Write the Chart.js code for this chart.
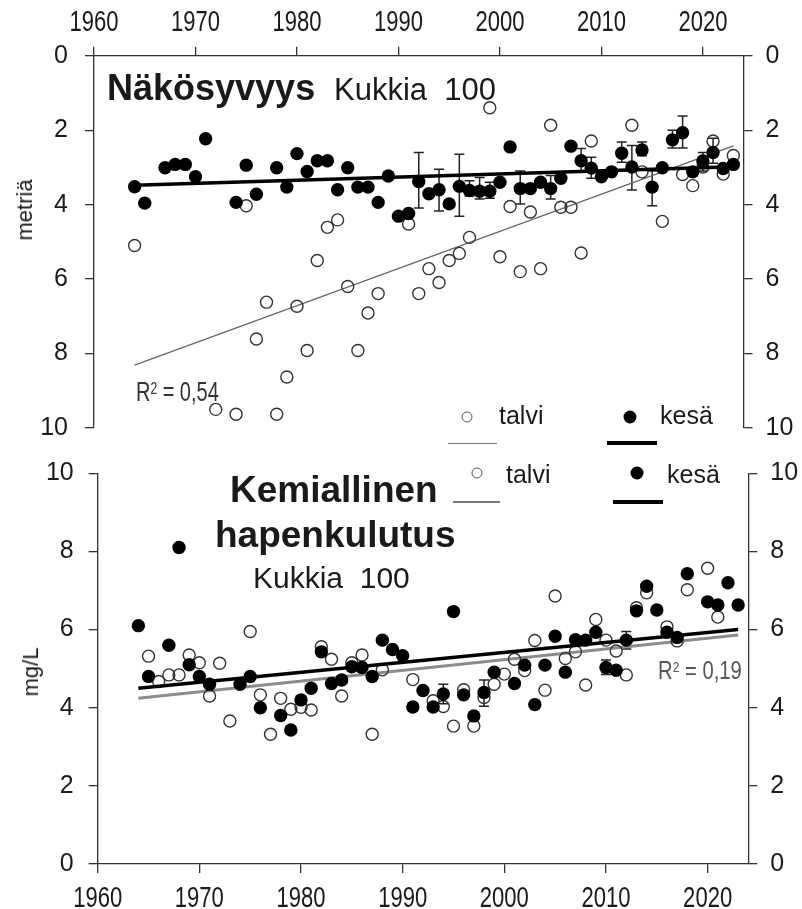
<!DOCTYPE html>
<html>
<head>
<meta charset="utf-8">
<script src="https://cdn.jsdelivr.net/npm/chart.js@4.4.1/dist/chart.umd.min.js"></script>
<style>
    body { margin: 0; background: #fff; }
    #wrap { position: relative; width: 802px; height: 909px; overflow: hidden; font-family: 'Liberation Sans', Arial, sans-serif; color: #1a1a1a; }
    canvas { position: absolute; left: 0; }
    .txt { position: absolute; white-space: pre; line-height: 1; }
    .bold { font-weight: bold; }
    .rot { position: absolute; white-space: pre; line-height: 1; font-size: 22px; transform: translate(-50%, -50%) rotate(-90deg); }
    .narrow { transform-origin: 0 0; color: #333; }
    .narrow sup { font-size: 0.6em; vertical-align: 0; position: relative; top: -0.45em; }
    .dot { position: absolute; border-radius: 50%; box-sizing: border-box; transform: translate(-50%, -50%); }
    .line { position: absolute; }
</style>
</head>
<body>
<div id="wrap">
    <canvas id="top-chart" width="802" height="460" style="top:0"></canvas>
    <canvas id="bottom-chart" width="802" height="469" style="top:440px"></canvas>

    <!-- titles -->
    <div class="txt bold" style="left:107px; top:69.5px; font-size:36px">Näkösyvyys</div>
    <div class="txt" style="left:334px; top:73.8px; font-size:31px">Kukkia  100</div>
    <div class="txt bold" style="left:230px; top:470.7px; font-size:37px">Kemiallinen</div>
    <div class="txt bold" style="left:215px; top:515.7px; font-size:37px">hapenkulutus</div>
    <div class="txt" style="left:253px; top:562.6px; font-size:30px">Kukkia  100</div>

    <!-- axis titles -->
    <div class="rot" style="left:25px; top:210px">metriä</div>
    <div class="rot" style="left:31px; top:672px">mg/L</div>

    <!-- R² labels -->
    <div class="txt narrow" style="left:136px; top:378.8px; font-size:27px; transform:scaleX(0.74)">R<sup>2</sup> = 0,54</div>
    <div class="txt narrow" style="left:658px; top:658.1px; font-size:25px; transform:scaleX(0.81); color:#555">R<sup>2</sup> = 0,19</div>

    <!-- legend, top panel -->
    <div class="dot" style="left:467px; top:417px; width:11px; height:11px; border:1.5px solid #555"></div>
    <div class="txt" style="left:499px; top:402.8px; font-size:25px">talvi</div>
    <div class="dot" style="left:630px; top:417px; width:13px; height:13px; background:#000"></div>
    <div class="txt" style="left:660px; top:402.8px; font-size:25px">kesä</div>
    <div class="line" style="left:448px; top:442.5px; width:49px; height:1.6px; background:#777"></div>
    <div class="line" style="left:607px; top:441px; width:50px; height:4px; background:#000"></div>

    <!-- legend, bottom panel -->
    <div class="dot" style="left:477px; top:473px; width:11px; height:11px; border:1.5px solid #555"></div>
    <div class="txt" style="left:506px; top:461.5px; font-size:25px">talvi</div>
    <div class="dot" style="left:637px; top:473px; width:13px; height:13px; background:#000"></div>
    <div class="txt" style="left:667px; top:461.5px; font-size:25px">kesä</div>
    <div class="line" style="left:453px; top:501px; width:47px; height:1.6px; background:#777"></div>
    <div class="line" style="left:613px; top:500px; width:50px; height:4px; background:#000"></div>
</div>

<script>
// Näkösyvyys (secchi depth, m) - summer (kesä) and winter (talvi)
const topKesaYears = [1964, 1965, 1967, 1968, 1969, 1970, 1971, 1974, 1975, 1976,
    1978, 1979, 1980, 1981, 1982, 1983, 1984, 1985, 1986, 1987, 1988, 1989, 1990, 1991,
    1992, 1993, 1994, 1995, 1996, 1997, 1998, 1999, 2000, 2001,
    2002, 2003, 2004, 2005, 2006, 2007, 2008, 2009, 2010, 2011,
    2012, 2013, 2014, 2015, 2016, 2017, 2018, 2019, 2020, 2021, 2022, 2023];
const topKesa = [3.52, 3.96, 3.01, 2.92, 2.92, 3.25, 2.23, 3.94, 2.94, 3.72,
    3.01, 3.53, 2.63, 3.11, 2.82, 2.82, 3.6, 3.01, 3.53, 3.53, 3.94, 3.23, 4.31, 4.24,
    3.38, 3.71, 3.6, 3.98, 3.51, 3.62, 3.64, 3.64, 3.4, 2.45,
    3.57, 3.57, 3.4, 3.57, 3.29, 2.43, 2.82, 3.02, 3.25, 3.12,
    2.62, 2.99, 2.53, 3.53, 3.01, 2.26, 2.07, 3.12, 2.83, 2.6, 3.03, 2.92];

const topTalviYears = [1964, 1972, 1974, 1975, 1976, 1977, 1978, 1979, 1980, 1981,
    1982, 1983, 1984, 1985, 1986, 1987, 1988,
    1991, 1992, 1993, 1994, 1995, 1996, 1997,
    1999, 2000, 2001, 2002, 2003, 2004, 2005, 2006, 2007, 2008, 2009,
    2013, 2014, 2016, 2018, 2019, 2020, 2021, 2022, 2023];
const topTalvi = [5.1, 9.5, 9.63, 4.03, 7.61, 6.62, 9.63, 8.63, 6.73, 7.92,
    5.5, 4.61, 4.41, 6.2, 7.92, 6.91, 6.39,
    4.52, 6.39, 5.72, 6.09, 5.5, 5.31, 4.88,
    1.4, 5.4, 4.05, 5.8, 4.2, 5.72, 1.87, 4.07, 4.07, 5.3, 2.29,
    1.87, 3.12, 4.45, 3.19, 3.49, 2.99, 2.29, 3.18, 2.68];

// error bars for summer secchi depth
const topErrYears = [1992, 1994, 1996, 1997, 1998, 1999, 2002, 2005, 2008, 2009, 2012, 2013, 2014, 2015, 2017, 2018, 2020, 2021];
const topErrLow = [2.6, 3.05, 2.65, 3.36, 3.27, 3.4, 3.1, 3.22, 2.49, 2.73, 2.32, 2.41, 2.32, 3.1, 2.0, 1.62, 2.6, 2.22];
const topErrHigh = [4.09, 4.17, 4.31, 3.77, 3.85, 3.83, 3.98, 3.85, 3.1, 3.29, 2.86, 3.61, 2.69, 4.03, 2.48, 2.48, 3.1, 2.89];

// Kemiallinen hapenkulutus (COD, mg/L)
const botKesaYears = [1964, 1965, 1967, 1968, 1969, 1970, 1971, 1974, 1975, 1976,
    1978, 1979, 1980, 1981, 1982, 1983, 1984, 1985, 1986, 1987, 1988, 1989, 1990,
    1991, 1992, 1993, 1994, 1995, 1996, 1997, 1998, 1999,
    2001, 2002, 2003, 2004, 2005, 2006, 2007, 2008, 2009, 2010, 2011, 2012,
    2013, 2014, 2015, 2016, 2017, 2018, 2020, 2021, 2022, 2023];
const botKesa = [6.1, 4.8, 5.6, 8.1, 5.1, 4.8, 4.6, 4.6, 4.8, 4.0,
    3.8, 3.43, 4.2, 4.5, 5.43, 4.62, 4.71, 5.05, 5.03, 4.8, 5.73, 5.49, 5.33,
    4.02, 4.44, 4.02, 4.35, 6.46, 4.33, 3.79, 4.39, 4.91,
    4.62, 5.09, 4.08, 5.09, 5.83, 4.91, 5.74, 5.73, 5.93, 5.03, 4.96, 5.73,
    6.48, 7.11, 6.5, 5.93, 5.8, 7.43, 6.71, 6.63, 7.2, 6.63];

const botTalviYears = [1965, 1966, 1967, 1968, 1969, 1970, 1971, 1972, 1973,
    1975, 1976, 1977, 1978, 1979, 1980, 1981, 1982, 1983, 1984, 1985, 1986, 1987, 1988,
    1991, 1993, 1994, 1995, 1996, 1997, 1998, 1999, 2000, 2001, 2002, 2003,
    2004, 2005, 2006, 2007, 2008, 2009, 2010, 2011, 2012, 2013, 2014,
    2016, 2017, 2018, 2020, 2021];
const botTalvi = [5.32, 4.67, 4.84, 4.84, 5.35, 5.15, 4.3, 5.14, 3.66,
    5.95, 4.33, 3.32, 4.24, 3.96, 4.01, 3.94, 5.56, 5.24, 4.3, 5.15, 5.35, 3.32, 4.97,
    4.72, 4.18, 4.03, 3.53, 4.46, 3.53, 4.26, 4.6, 4.86, 5.24, 4.95, 5.72,
    4.45, 6.86, 5.26, 5.43, 4.58, 6.26, 5.73, 5.45, 4.84, 6.56, 6.94,
    6.07, 5.71, 7.02, 7.57, 6.32];

const botErrYears = [1994, 1998, 2010, 2012];
const botErrLow = [4.1, 4.04, 4.85, 5.5];
const botErrHigh = [4.6, 4.71, 5.22, 5.95];

// linear trend lines (start and end year)
const trendYears = [1964, 2023];
const topKesaTrend = [3.48, 2.98];
const topTalviTrend = [8.31, 2.42];
const botKesaTrend = [4.5, 6.0];
const botTalviTrend = [4.24, 5.86];

const yTicks = [0, 2, 4, 6, 8, 10];
const xTicks = [1960, 1970, 1980, 1990, 2000, 2010, 2020];

const axisColor = '#333';
const labelColor = '#1a1a1a';
const sansFont = "'Liberation Sans', Arial, sans-serif";

// Helper to pair years with values
function points(years, values) {
    return years.map((year, i) => ({ x: year, y: values[i] }));
}

// Plugin that draws vertical error bars with caps under the markers
function errorBars(years, low, high) {
    return {
        id: 'errorBars',
        beforeDatasetsDraw(chart) {
            const { ctx, scales } = chart;
            ctx.save();
            ctx.strokeStyle = '#222';
            ctx.lineWidth = 1.5;
            years.forEach((year, i) => {
                const px = scales.x.getPixelForValue(year);
                const y1 = scales.y.getPixelForValue(low[i]);
                const y2 = scales.y.getPixelForValue(high[i]);
                ctx.beginPath();
                ctx.moveTo(px, y1); ctx.lineTo(px, y2);
                ctx.moveTo(px - 5, y1); ctx.lineTo(px + 5, y1);
                ctx.moveTo(px - 5, y2); ctx.lineTo(px + 5, y2);
                ctx.stroke();
            });
            ctx.restore();
        }
    };
}

// Year labels in the original are a narrow face; squeeze them horizontally
function narrowYearLabels(baselineOffset) {
    return {
        id: 'narrowYearLabels',
        afterDraw(chart) {
            const { ctx, scales } = chart;
            const x = scales.x;
            const baseline = x.position === 'top' ? x.bottom - baselineOffset : x.top + baselineOffset;
            ctx.save();
            ctx.font = '29px ' + sansFont;
            ctx.fillStyle = labelColor;
            ctx.textAlign = 'center';
            ctx.textBaseline = 'alphabetic';
            x.ticks.forEach(tick => {
                ctx.save();
                ctx.translate(x.getPixelForValue(tick.value), baseline);
                ctx.scale(0.76, 1);
                ctx.fillText(String(tick.value), 0, 0);
                ctx.restore();
            });
            ctx.restore();
        }
    };
}

function datasets(kesa, talvi, kesaTrend, talviTrend, talviTrendStyle) {
    // first dataset is drawn on top
    return [
        {
            label: 'kesä', data: kesa,
            pointRadius: 6.7, pointBackgroundColor: '#000', pointBorderColor: '#000', pointBorderWidth: 0
        },
        {
            label: 'kesä trend', data: points(trendYears, kesaTrend), showLine: true,
            borderColor: '#000', borderWidth: 3.5, pointRadius: 0
        },
        {
            label: 'talvi', data: talvi,
            pointRadius: 6, pointBackgroundColor: 'rgba(255,255,255,0)', pointBorderColor: '#333', pointBorderWidth: 1.4
        },
        Object.assign({
            label: 'talvi trend', data: points(trendYears, talviTrend), showLine: true, pointRadius: 0
        }, talviTrendStyle)
    ];
}

function makeChart(canvasId, cfg) {
    const canvas = document.getElementById(canvasId);
    const yAxis = (position, width, pad) => ({
        type: 'linear', position: position, min: 0, max: 10, reverse: cfg.reverse,
        afterBuildTicks: scale => { scale.ticks = yTicks.map(v => ({ value: v })); },
        afterFit: scale => { scale.width = width; },
        ticks: { color: labelColor, font: { family: sansFont, size: 25 }, padding: pad, callback: v => String(v) },
        grid: { drawOnChartArea: false, tickLength: 9, color: axisColor, lineWidth: 1.3 },
        border: { color: axisColor, width: 1.3 }
    });

    return new Chart(canvas, {
        type: 'scatter',
        data: { datasets: cfg.datasets },
        options: {
            responsive: false,
            animation: false,
            events: [],
            layout: { padding: cfg.padding },
            plugins: { legend: { display: false }, tooltip: { enabled: false } },
            scales: {
                x: {
                    type: 'linear', position: cfg.xPosition, min: 1960, max: 2024,
                    afterBuildTicks: scale => { scale.ticks = xTicks.map(v => ({ value: v })); },
                    afterFit: scale => { scale.height = cfg.xHeight; },
                    ticks: { display: false },
                    grid: { drawOnChartArea: false, tickLength: 9, color: axisColor, lineWidth: 1.3 },
                    border: { color: axisColor, width: 1.3 }
                },
                y: yAxis('left', cfg.leftWidth, cfg.leftPad),
                y2: yAxis('right', cfg.rightWidth, cfg.rightPad)
            }
        },
        plugins: [errorBars(cfg.errYears, cfg.errLow, cfg.errHigh), narrowYearLabels(cfg.xLabelOffset)]
    });
}

// Top panel: secchi depth, reversed axis, x axis on top
makeChart('top-chart', {
    datasets: datasets(points(topKesaYears, topKesa), points(topTalviYears, topTalvi),
        topKesaTrend, topTalviTrend, { borderColor: '#666', borderWidth: 1.3 }),
    reverse: true,
    xPosition: 'top', xHeight: 55.7, xLabelOffset: 25,
    leftWidth: 94, leftPad: 17, rightWidth: 58.5, rightPad: 13,
    padding: { top: 0, bottom: 17, left: 0, right: 0 },
    errYears: topErrYears, errLow: topErrLow, errHigh: topErrHigh
});

// Bottom panel: COD, x axis at the bottom
makeChart('bottom-chart', {
    datasets: datasets(points(botKesaYears, botKesa), points(botTalviYears, botTalvi),
        botKesaTrend, botTalviTrend, { borderColor: '#8c8c8c', borderWidth: 3 }),
    reverse: false,
    xPosition: 'bottom', xHeight: 45, xLabelOffset: 43,
    leftWidth: 97.7, leftPad: 15, rightWidth: 53.7, rightPad: 13,
    padding: { top: 33.3, bottom: 0, left: 0, right: 0 },
    errYears: botErrYears, errLow: botErrLow, errHigh: botErrHigh
});
</script>
</body>
</html>
